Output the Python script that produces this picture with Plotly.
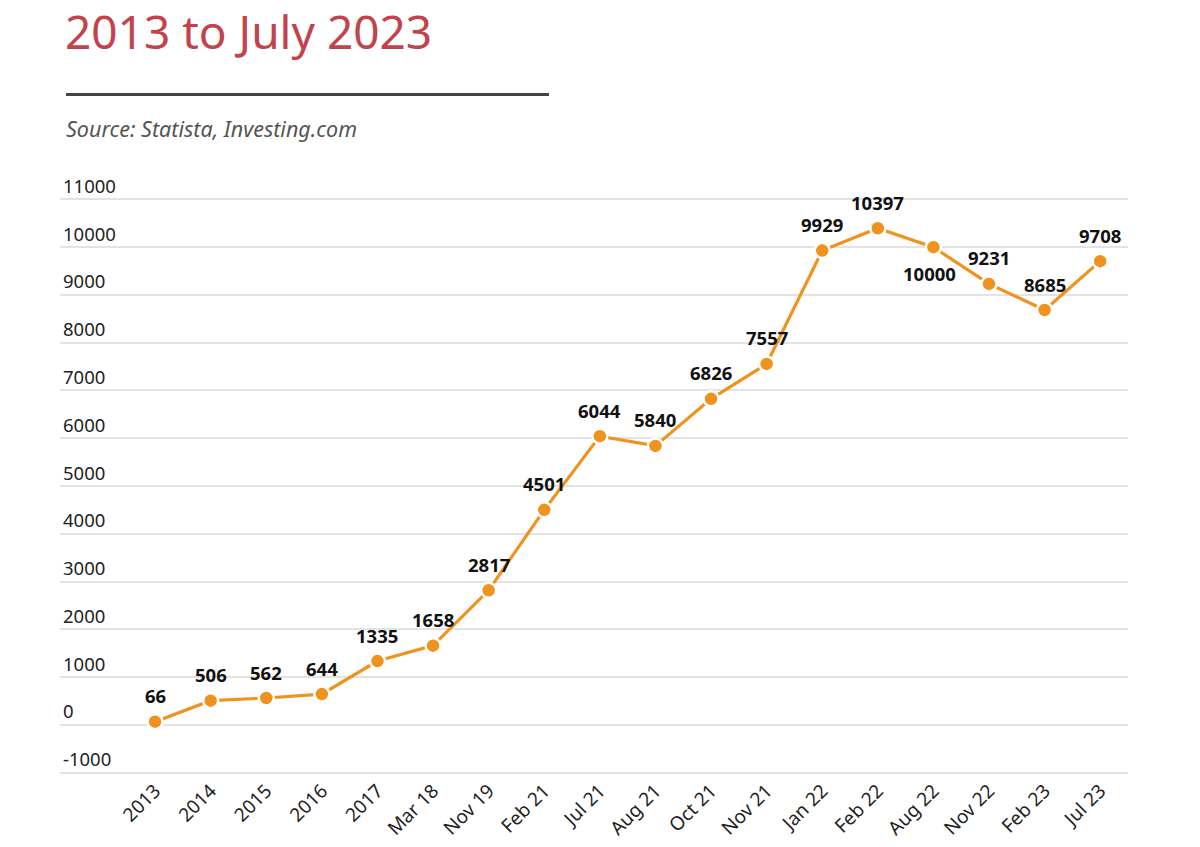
import plotly.graph_objects as go

categories = ["2013", "2014", "2015", "2016", "2017", "Mar 18", "Nov 19", "Feb 21", "Jul 21",
              "Aug 21", "Oct 21", "Nov 21", "Jan 22", "Feb 22", "Aug 22", "Nov 22", "Feb 23", "Jul 23"]
values = [66, 506, 562, 644, 1335, 1658, 2817, 4501, 6044, 5840, 6826, 7557, 9929, 10397, 10000, 9231, 8685, 9708]
label_below = [False] * len(values)
label_below[14] = True
y_ticks = list(range(-1000, 11001, 1000))

FONT = "Noto Sans"
xs = list(range(len(categories)))
fig = go.Figure()
fig.add_trace(go.Scatter(
    x=xs, y=values,
    mode="lines+markers",
    line=dict(color="#F0921E", width=3.2),
    marker=dict(size=15, color="#F0921E", line=dict(color="white", width=2.5)),
    cliponaxis=False,
    hoverinfo="skip",
))

PX_PER_UNIT = 47.8 / 1000
Y_MIN, Y_MAX = -1050, 11700
L, R, W, H = 60, 72, 1200, 847
T = 199 - (Y_MAX - 11000) * PX_PER_UNIT
B = 74 - (-1000 - Y_MIN) * PX_PER_UNIT
ph = H - T - B
pw = W - L - R

def py(px):
    return (H - B - px) / ph

def pxx(px):
    return (px - L) / pw

annotations = [
    dict(text="2013 to July 2023", xref="paper", yref="paper", x=pxx(63), y=py(30),
         xanchor="left", yanchor="middle", showarrow=False,
         font=dict(family=FONT, size=46, color="#C2434C")),
    dict(text="<i>Source: Statista, Investing.com</i>", xref="paper", yref="paper",
         x=pxx(64), y=py(128), xanchor="left", yanchor="middle", showarrow=False,
         font=dict(family=FONT, size=21.5, color="#555555")),
]
for x, v, below in zip(xs, values, label_below):
    annotations.append(dict(
        x=x, y=v, xref="x", yref="y", text=f"<b>{v}</b>", showarrow=False,
        xanchor="center", yanchor="middle",
        xshift=-4 if below else 0, yshift=-26 if below else 26,
        font=dict(family=FONT, size=18.5, color="#111111"),
    ))

fig.update_layout(
    width=W, height=H,
    margin=dict(l=L, r=R, t=T, b=B, autoexpand=False),
    paper_bgcolor="white", plot_bgcolor="white",
    showlegend=False,
    font=dict(family=FONT, color="#222222"),
    xaxis=dict(
        range=[-1.71, 17.5], automargin=False,
        tickmode="array", tickvals=xs, ticktext=categories,
        tickangle=-45, tickfont=dict(size=19, color="#222222"),
        showgrid=False, zeroline=False, showline=False, ticks="",
        fixedrange=True,
    ),
    yaxis=dict(
        range=[Y_MIN, Y_MAX], automargin=False,
        tickmode="array", tickvals=y_ticks, ticktext=[str(v) for v in y_ticks],
        ticklabelposition="inside top",
        tickfont=dict(size=18.5, color="#222222"),
        showgrid=True, gridcolor="#E3E3E3", gridwidth=1.5,
        zeroline=False, showline=False, ticks="",
        fixedrange=True,
    ),
    annotations=annotations,
    shapes=[
        dict(type="line", xref="paper", yref="paper", x0=pxx(66), x1=pxx(549),
             y0=py(94), y1=py(94), line=dict(color="#444444", width=3)),
    ],
)

fig.write_html("out.html")
